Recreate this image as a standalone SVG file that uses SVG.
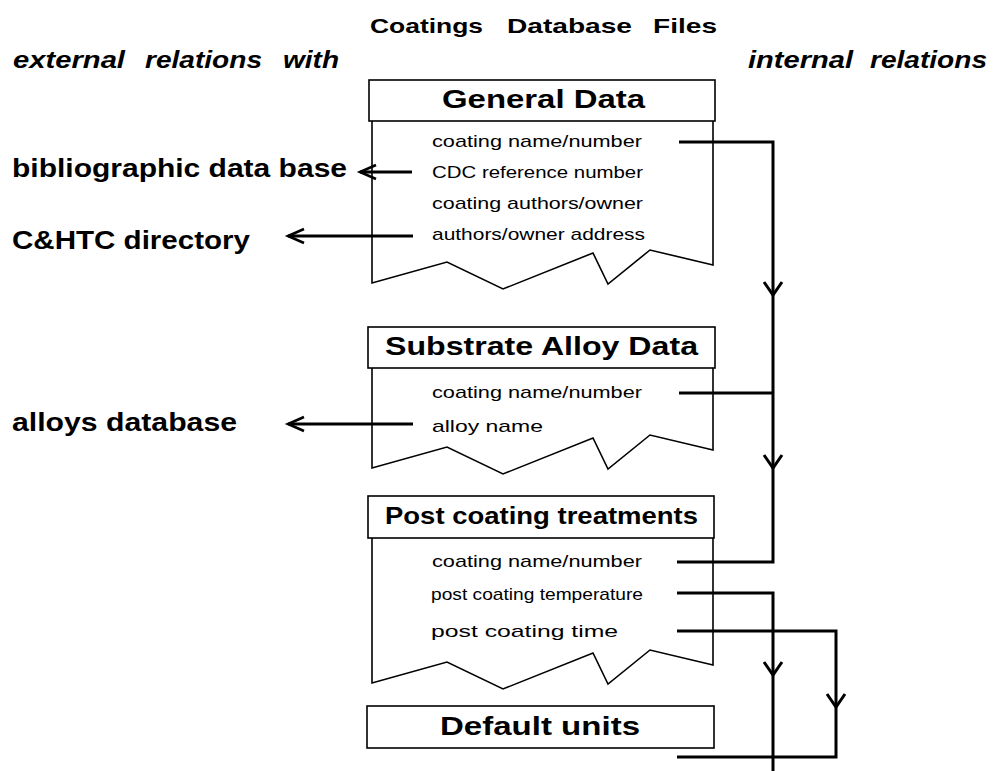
<svg xmlns="http://www.w3.org/2000/svg" width="994" height="771" viewBox="0 0 994 771">
  <style>
    .box { fill: #fff; stroke: #000; stroke-width: 1.6; }
    .body { fill: none; stroke: #000; stroke-width: 1.6; stroke-linejoin: miter; }
    .head { font-family: "Liberation Sans", Arial, sans-serif; font-weight: bold; fill: #000; }
    .row { font-family: "Liberation Sans", Arial, sans-serif; font-size: 17px; fill: #000; }
    .ext { font-family: "Liberation Sans", Arial, sans-serif; font-weight: bold; font-size: 25px; fill: #000; }
    .cap { font-family: "Liberation Sans", Arial, sans-serif; font-weight: bold; font-style: italic; font-size: 24px; fill: #000; }
    .title { font-family: "Liberation Sans", Arial, sans-serif; font-weight: bold; font-size: 21px; fill: #000; }
    .link { fill: none; stroke: #000; stroke-width: 3; stroke-linejoin: miter; }
    .vee { fill: none; stroke: #000; stroke-width: 3; stroke-linejoin: miter; }
  </style>
  <defs>
    <marker id="open" markerUnits="userSpaceOnUse" markerWidth="22" markerHeight="20" refX="18" refY="9" orient="auto">
      <path d="M2,2 L18,9 L2,16" fill="none" stroke="#000" stroke-width="2.6"/>
    </marker>
  </defs>

  <!-- headings: words placed individually for the wide word gaps -->
  <text class="title" y="33">
    <tspan x="370" textLength="113" lengthAdjust="spacingAndGlyphs">Coatings</tspan>
    <tspan x="507" textLength="125" lengthAdjust="spacingAndGlyphs">Database</tspan>
    <tspan x="653" textLength="64" lengthAdjust="spacingAndGlyphs">Files</tspan>
  </text>
  <text class="cap" y="68">
    <tspan x="13" textLength="112" lengthAdjust="spacingAndGlyphs">external</tspan>
    <tspan x="145" textLength="117" lengthAdjust="spacingAndGlyphs">relations</tspan>
    <tspan x="283" textLength="56" lengthAdjust="spacingAndGlyphs">with</tspan>
  </text>
  <text class="cap" y="68">
    <tspan x="748" textLength="105" lengthAdjust="spacingAndGlyphs">internal</tspan>
    <tspan x="870" textLength="117" lengthAdjust="spacingAndGlyphs">relations</tspan>
  </text>

  <!-- external databases -->
  <g id="ext-bibliographic">
    <text class="ext" x="12" y="177" textLength="335" lengthAdjust="spacingAndGlyphs">bibliographic data base</text>
  </g>
  <g id="ext-directory">
    <text class="ext" x="12" y="249" textLength="238" lengthAdjust="spacingAndGlyphs">C&amp;HTC directory</text>
  </g>
  <g id="ext-alloys">
    <text class="ext" x="12" y="431" textLength="225" lengthAdjust="spacingAndGlyphs">alloys database</text>
  </g>

  <!-- General Data file: header plus torn-paper record body -->
  <g id="general-data">
    <path class="body" d="M372,121 V283 L447,262 L503,289 L593,253 L608,284 L650,250 L713,265 V121"/>
    <rect class="box" x="369" y="80" width="346" height="41"/>
    <text class="head" x="442" y="108" font-size="26" textLength="203" lengthAdjust="spacingAndGlyphs">General Data</text>
    <text class="row" x="432" y="147" textLength="210" lengthAdjust="spacingAndGlyphs">coating name/number</text>
    <text class="row" x="432" y="178" textLength="211" lengthAdjust="spacingAndGlyphs">CDC reference number</text>
    <text class="row" x="432" y="209" textLength="211" lengthAdjust="spacingAndGlyphs">coating authors/owner</text>
    <text class="row" x="432" y="240" textLength="213" lengthAdjust="spacingAndGlyphs">authors/owner address</text>
  </g>

  <!-- Substrate Alloy Data file -->
  <g id="substrate-alloy-data">
    <path class="body" d="M372,368 V468 L447,447 L503,474 L593,438 L608,469 L650,435 L713,450 V368"/>
    <rect class="box" x="368" y="327" width="347" height="41"/>
    <text class="head" x="385" y="355" font-size="26" textLength="313" lengthAdjust="spacingAndGlyphs">Substrate Alloy Data</text>
    <text class="row" x="432" y="398" textLength="210" lengthAdjust="spacingAndGlyphs">coating name/number</text>
    <text class="row" x="432" y="432" textLength="111" lengthAdjust="spacingAndGlyphs">alloy name</text>
  </g>

  <!-- Post coating treatments file -->
  <g id="post-coating-treatments">
    <path class="body" d="M372,538 V683 L447,662 L503,689 L593,653 L608,684 L650,650 L713,665 V538"/>
    <rect class="box" x="368" y="496" width="346" height="42"/>
    <text class="head" x="385" y="524" font-size="24" textLength="313" lengthAdjust="spacingAndGlyphs">Post coating treatments</text>
    <text class="row" x="432" y="567" textLength="210" lengthAdjust="spacingAndGlyphs">coating name/number</text>
    <text class="row" x="431" y="600" font-size="14" textLength="212" lengthAdjust="spacingAndGlyphs">post coating temperature</text>
    <text class="row" x="431" y="637" textLength="187" lengthAdjust="spacingAndGlyphs">post coating time</text>
  </g>

  <!-- Default units file -->
  <g id="default-units">
    <rect class="box" x="367" y="706" width="347" height="42"/>
    <text class="head" x="440" y="735" font-size="26" textLength="200" lengthAdjust="spacingAndGlyphs">Default units</text>
  </g>

  <!-- connectors -->
  <g id="connectors">
    <!-- external relations -->
    <line class="link" x1="412" y1="172" x2="360" y2="172" marker-end="url(#open)"/>
    <line class="link" x1="413" y1="236" x2="288" y2="236" marker-end="url(#open)"/>
    <line class="link" x1="413" y1="424" x2="288" y2="424" marker-end="url(#open)"/>

    <!-- coating name/number chain -->
    <path class="link" d="M679,142 H773 V562 H677"/>
    <path class="link" d="M679,393 H773"/>
    <path class="vee" d="M764,282 L773,295 L782,282"/>
    <path class="vee" d="M764,455 L773,468 L782,455"/>

    <!-- temperature and time to default units -->
    <path class="link" d="M677,593 H773 V771"/>
    <path class="link" d="M677,631 H836 V757 H677"/>
    <path class="vee" d="M764,662 L773,675 L782,662"/>
    <path class="vee" d="M827,694 L836,707 L845,694"/>
  </g>
</svg>
